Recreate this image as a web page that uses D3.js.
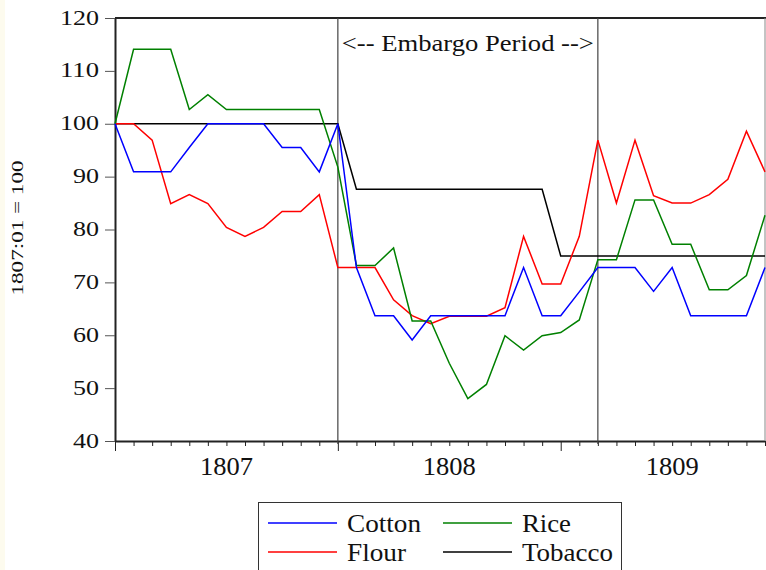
<!DOCTYPE html>
<head>
  <meta charset="utf-8">
  <script src="https://d3js.org/d3.v7.min.js"></script>
</head>
<body>
  <div id="chart"></div>

  <script>
    // monthly index numbers, 1807:01 .. 1809:12 (1807:01 = 100)
    var cotton = [100, 90.9, 90.9, 90.9, 95.5, 100, 100, 100, 100, 95.5, 95.5, 90.9,
                  100, 72.8, 63.7, 63.7, 59.1, 63.7, 63.7, 63.7, 63.7, 63.7, 72.8, 63.7,
                  63.7, 68.2, 72.8, 72.8, 72.8, 68.3, 72.8, 63.7, 63.7, 63.7, 63.7, 72.8];
    var flour  = [100, 100, 96.9, 84.9, 86.6, 84.9, 80.4, 78.7, 80.4, 83.4, 83.4, 86.6,
                  72.8, 72.8, 72.8, 66.7, 63.7, 62.2, 63.6, 63.6, 63.6, 65.2, 78.7, 69.7,
                  69.7, 78.7, 96.9, 85.0, 96.9, 86.4, 85.0, 85.0, 86.6, 89.5, 98.6, 90.9];
    var rice   = [100, 114.1, 114.1, 114.1, 102.7, 105.5, 102.7, 102.7, 102.7, 102.7, 102.7, 102.7,
                  91.8, 73.2, 73.2, 76.5, 62.7, 62.7, 54.7, 48.0, 50.7, 59.9, 57.2, 59.9,
                  60.5, 62.9, 74.3, 74.3, 85.6, 85.6, 77.2, 77.2, 68.6, 68.6, 71.3, 82.7];
    var tobacco = [100, 100, 100, 100, 100, 100, 100, 100, 100, 100, 100, 100,
                   100, 87.6, 87.6, 87.6, 87.6, 87.6, 87.6, 87.6, 87.6, 87.6, 87.6, 87.6,
                   75, 75, 75, 75, 75, 75, 75, 75, 75, 75, 75, 75];

    var years = ['1807', '1808', '1809'];
    var yTicks = [40, 50, 60, 70, 80, 90, 100, 110, 120];
    var embargo = [12, 26]; // month index where the embargo starts / ends

    var series = [
      {name: 'Cotton', values: cotton, color: '#0000ff'},
      {name: 'Rice', values: rice, color: '#008000'},
      {name: 'Flour', values: flour, color: '#ff0000'},
      {name: 'Tobacco', values: tobacco, color: '#000000'}
    ];

    var width = 766, height = 570;
    var plotLeft = 115, plotRight = 765, plotTop = 18, plotBottom = 441;
    var serif = '"Liberation Serif", "Times New Roman", serif';

    var svg = d3.select('#chart').append('svg')
      .attr('width', width)
      .attr('height', height)
      .style('display', 'block');

    svg.append('rect').attr('width', width).attr('height', height).attr('fill', '#fff');
    svg.append('rect').attr('width', 5).attr('height', height).attr('fill', '#fdfbee');

    var x = d3.scaleLinear().domain([0, 35]).range([plotLeft, plotRight]);
    var y = d3.scaleLinear().domain([40, 120]).range([plotBottom, plotTop]);

    // y axis
    var yAxis = svg.append('g').attr('transform', 'translate(' + plotLeft + ',0)')
      .call(d3.axisLeft(y).tickValues(yTicks).tickSize(10).tickSizeOuter(0));
    yAxis.select('.domain').attr('stroke', '#222').attr('stroke-width', 2);
    yAxis.selectAll('.tick line').attr('stroke', '#555');
    yAxis.selectAll('.tick text')
      .attr('font-family', serif).attr('font-size', 21).attr('fill', '#111')
      .attr('x', -16).attr('dy', null).attr('y', 6)
      .attr('textLength', d => String(d).length * 13)
      .attr('lengthAdjust', 'spacingAndGlyphs');

    // x axis: monthly ticks, longer at January
    var months = d3.range(36);
    var xAxis = svg.append('g').attr('transform', 'translate(0,' + plotBottom + ')')
      .call(d3.axisBottom(x).tickValues(months).tickSize(5).tickFormat('').tickSizeOuter(0));
    xAxis.select('.domain').attr('stroke', '#222').attr('stroke-width', 2);
    xAxis.selectAll('.tick line').attr('stroke', '#222')
      .attr('y2', d => d % 12 === 0 ? 10 : 5);

    svg.append('g').selectAll('text')
      .data(years)
      .join('text')
        .attr('x', (d, i) => x(i * 12 + 6))
        .attr('y', 475)
        .attr('text-anchor', 'middle')
        .attr('font-family', serif).attr('font-size', 26).attr('fill', '#111')
        .attr('textLength', 53).attr('lengthAdjust', 'spacingAndGlyphs')
        .text(d => d);

    // frame
    svg.append('line').attr('x1', plotLeft).attr('x2', width).attr('y1', plotTop).attr('y2', plotTop)
      .attr('stroke', '#222').attr('stroke-width', 2);
    svg.append('line').attr('x1', plotRight).attr('x2', plotRight).attr('y1', plotTop).attr('y2', plotBottom)
      .attr('stroke', '#888').attr('stroke-width', 1);

    // embargo markers
    svg.append('g').selectAll('line')
      .data(embargo)
      .join('line')
        .attr('x1', d => x(d)).attr('x2', d => x(d))
        .attr('y1', plotTop).attr('y2', plotBottom + 3)
        .attr('stroke', '#444').attr('stroke-width', 1.2);

    svg.append('text')
      .attr('x', (x(embargo[0]) + x(embargo[1])) / 2)
      .attr('y', 51)
      .attr('text-anchor', 'middle')
      .attr('font-family', serif).attr('font-size', 23).attr('fill', '#111')
      .attr('textLength', 252).attr('lengthAdjust', 'spacingAndGlyphs')
      .text('<-- Embargo Period -->');

    // y title
    svg.append('text')
      .attr('transform', 'translate(23,228) rotate(-90)')
      .attr('text-anchor', 'middle')
      .attr('font-family', serif).attr('font-size', 17).attr('fill', '#111')
      .attr('textLength', 135).attr('lengthAdjust', 'spacingAndGlyphs')
      .text('1807:01 = 100');

    // lines
    var line = d3.line().x((d, i) => x(i)).y(d => y(d));
    svg.append('g').selectAll('path')
      .data([series[3], series[2], series[1], series[0]])
      .join('path')
        .attr('fill', 'none')
        .attr('stroke', d => d.color)
        .attr('stroke-width', 1.5)
        .attr('d', d => line(d.values));

    // legend
    var lg = svg.append('g');
    lg.append('rect')
      .attr('x', 258.5).attr('y', 502.5).attr('width', 363).attr('height', 80)
      .attr('fill', '#fff').attr('stroke', '#333').attr('stroke-width', 1);
    var legendPos = [
      {lx: 268, ty: 523}, {lx: 443, ty: 523},
      {lx: 268, ty: 552}, {lx: 443, ty: 552}
    ];
    var legendWidth = {Cotton: 74, Rice: 49, Flour: 59, Tobacco: 91};
    var item = lg.selectAll('g.item')
      .data(series)
      .join('g').attr('class', 'item')
      .attr('transform', (d, i) => 'translate(' + legendPos[i].lx + ',' + legendPos[i].ty + ')');
    item.append('line')
      .attr('x1', 0).attr('x2', 69).attr('y1', 0).attr('y2', 0)
      .attr('stroke', d => d.color).attr('stroke-width', 1.5);
    item.append('text')
      .attr('x', 79).attr('y', 9)
      .attr('font-family', serif).attr('font-size', 25).attr('fill', '#111')
      .attr('textLength', d => legendWidth[d.name]).attr('lengthAdjust', 'spacingAndGlyphs')
      .text(d => d.name);
  </script>
</body>

<style>
  body { margin: 0; background: #fff; }
</style>
